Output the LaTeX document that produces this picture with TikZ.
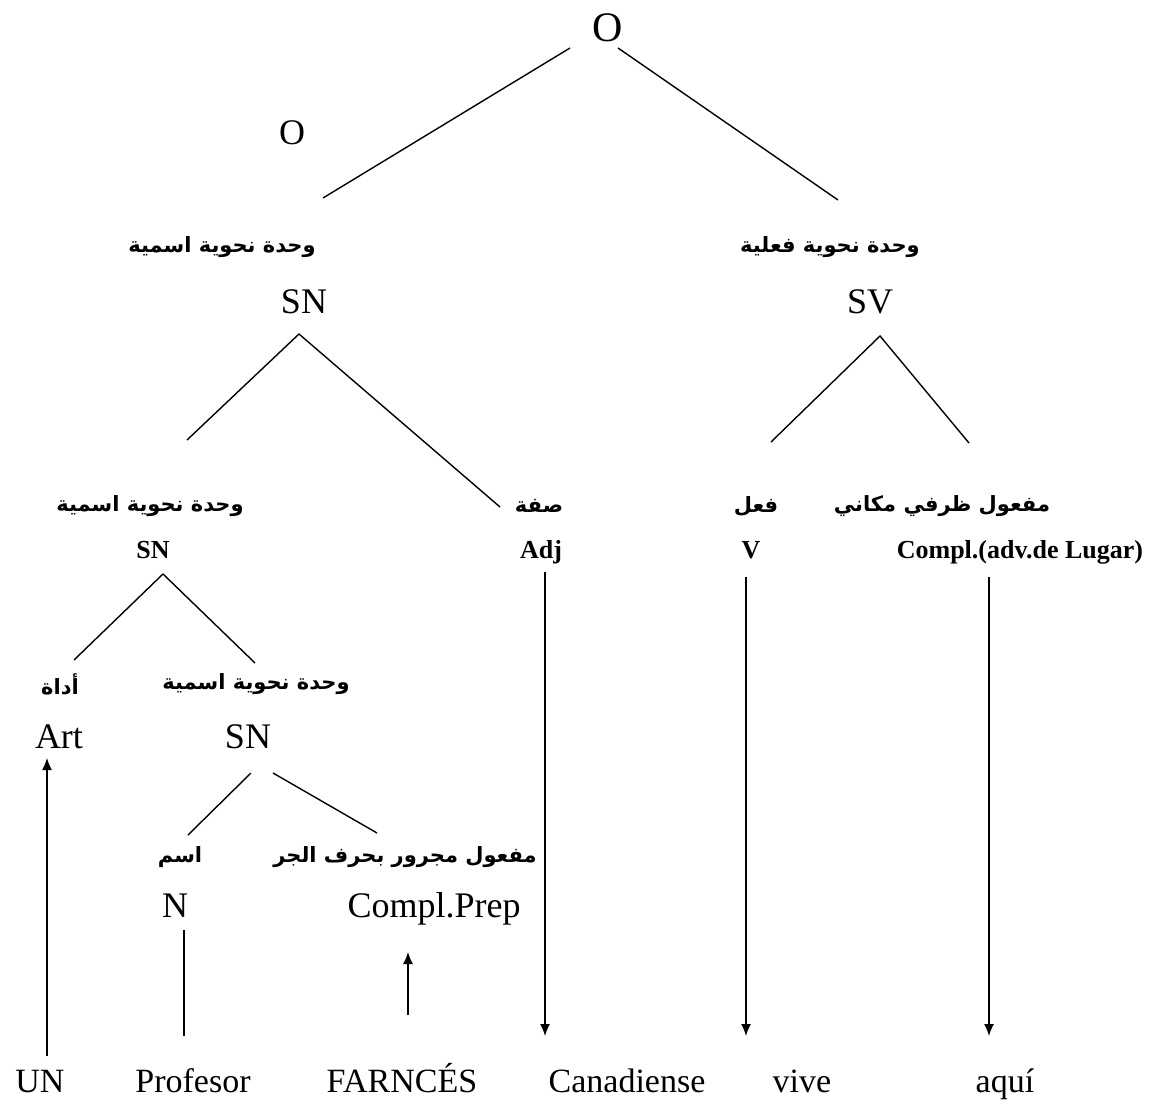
\documentclass[tikz,border=0pt]{standalone}
\usepackage{fontspec}
\setmainfont{Liberation Serif}
\newfontfamily\arabicfont[Script=Arabic]{DejaVu Sans}
\TeXXeTstate=1
\usetikzlibrary{arrows.meta}
\begin{document}
\begin{tikzpicture}[x=1pt,y=-1pt,
  ar/.style={font=\arabicfont\bfseries\fontsize{21}{24}\selectfont, inner sep=0pt, anchor=center},
  big/.style={font=\fontsize{36}{40}\selectfont, inner sep=0pt, anchor=base},
  bl/.style={font=\bfseries\fontsize{26}{28}\selectfont, inner sep=0pt, anchor=base},
  word/.style={font=\fontsize{34}{38}\selectfont, inner sep=0pt, anchor=base},
  edge/.style={line width=1.4pt},
  arr/.style={line width=1.4pt, -{Latex[length=12pt,width=10pt]}}]
\useasboundingbox (0,0) rectangle (1158,1107);
\fill[white] (0,0) rectangle (1158,1107);

% top
\node[big, font=\fontsize{42}{46}\selectfont] (O1) at (608,42) {O};
\node[big] (O2) at (292,145) {O};

% level 2
\node[ar] (arSN1) at (222,247) {\beginR وحدة نحوية اسمية\endR};
\node[big] (SN1) at (304,313) {SN};
\node[ar] (arSV) at (830,247) {\beginR وحدة نحوية فعلية\endR};
\node[big] (SV) at (870,313) {SV};

% level 3
\node[ar] (arSN2) at (150,506) {\beginR وحدة نحوية اسمية\endR};
\node[bl] (SN2) at (153,558) {SN};
\node[ar] (arAdj) at (539,506) {\beginR صفة\endR};
\node[bl] (Adj) at (541,558) {Adj};
\node[ar] (arV) at (756,506) {\beginR فعل\endR};
\node[bl] (V) at (751,558) {V};
\node[ar] (arC) at (942,506) {\beginR مفعول ظرفي مكاني\endR};
\node[bl] (Compl) at (1020,558) {Compl.(adv.de Lugar)};

% level 4
\node[ar] (arArt) at (60,684) {\beginR أداة\endR};
\node[big] (Art) at (59,748) {Art};
\node[ar] (arSN3) at (256,684) {\beginR وحدة نحوية اسمية\endR};
\node[big] (SN3) at (248,748) {SN};

% level 5
\node[ar] (arN) at (180,857) {\beginR اسم\endR};
\node[big] (N) at (175,917) {N};
\node[ar] (arCP) at (405,857) {\beginR مفعول مجرور بحرف الجر\endR};
\node[big] (CP) at (434,917) {Compl.Prep};

% bottom words
\node[word] (w1) at (40,1092) {UN};
\node[word] (w2) at (193,1092) {Profesor};
\node[word] (w3) at (402,1092) {FARNCÉS};
\node[word] (w4) at (627,1092) {Canadiense};
\node[word] (w5) at (802,1092) {vive};
\node[word] (w6) at (1005,1092) {aquí};

% line endpoints
\coordinate (tL0) at (570,48);  \coordinate (tL1) at (323,198);
\coordinate (tR0) at (618,48);  \coordinate (tR1) at (838,200);
\coordinate (sn1a) at (299,334); \coordinate (sn1l) at (187,440); \coordinate (sn1r) at (500,507);
\coordinate (sva) at (880,336);  \coordinate (svl) at (771,442);  \coordinate (svr) at (969,443);
\coordinate (sn2a) at (163,574); \coordinate (sn2l) at (74,660);  \coordinate (sn2r) at (255,663);
\coordinate (sn3la) at (251,773); \coordinate (sn3l) at (188,835);
\coordinate (sn3ra) at (273,773); \coordinate (sn3r) at (377,833);
\coordinate (nTop) at (184,930); \coordinate (nBot) at (184,1036);
\coordinate (cpBot) at (408,1015); \coordinate (cpTip) at (408,952);
\coordinate (artBot) at (47,1056); \coordinate (artTip) at (47,758);
\coordinate (adjTop) at (545,572); \coordinate (adjTip) at (545,1036);
\coordinate (vTop) at (746,577);   \coordinate (vTip) at (746,1036);
\coordinate (cTop) at (989,577);   \coordinate (cTip) at (989,1036);

\draw[edge] (tL0) -- (tL1);
\draw[edge] (tR0) -- (tR1);
\draw[edge] (sn1l) -- (sn1a) -- (sn1r);
\draw[edge] (svl) -- (sva) -- (svr);
\draw[edge] (sn2l) -- (sn2a) -- (sn2r);
\draw[edge] (sn3la) -- (sn3l);
\draw[edge] (sn3ra) -- (sn3r);
\draw[edge] (nTop) -- (nBot);
\draw[arr] (cpBot) -- (cpTip);
\draw[arr] (artBot) -- (artTip);
\draw[arr] (adjTop) -- (adjTip);
\draw[arr] (vTop) -- (vTip);
\draw[arr] (cTop) -- (cTip);
\end{tikzpicture}
\end{document}
